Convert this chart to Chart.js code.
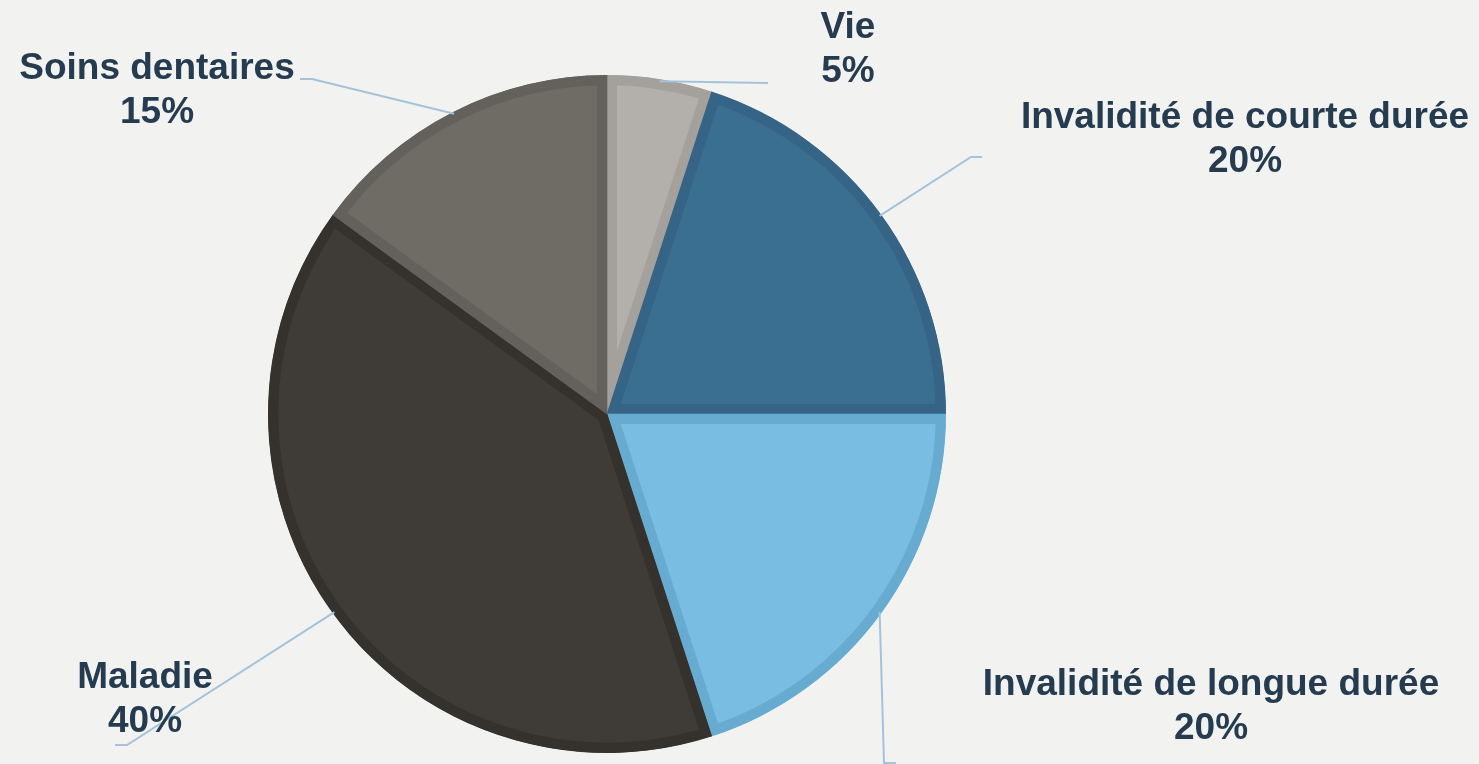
<!DOCTYPE html>
<html>
<head>
<meta charset="utf-8">
<script src="https://cdn.jsdelivr.net/npm/chart.js@4/dist/chart.umd.min.js"></script>
<style>
  html, body { margin: 0; padding: 0; background: #f2f2f1; }
  #wrap { width: 1479px; height: 764px; position: relative; }
</style>
</head>
<body>
<div id="wrap"><canvas id="pie"></canvas></div>
<script>
/* ====== DONNÉES ====== */
const categories = ["Vie", "Invalidité de courte durée", "Invalidité de longue durée", "Maladie", "Soins dentaires"];
const shares = [5, 20, 20, 40, 15];

const fillColors   = ["#b3b0ab", "#3a6f91", "#79bde2", "#3f3c37", "#6f6b65"];
const borderColors = ["#a4a09b", "#356487", "#67abd0", "#35322e", "#64605b"];

/* ====== ÉTIQUETTES (mise en page) ======
   tx/ty = centre du texte / ligne de base 1re ligne
   ex/ey = coude de la ligne de rappel, endX = fin du trait horizontal */
const labelLayout = [
  { tx: 848,  ty: 38,  ex: 768, ey: 83,  endX: 768 },
  { tx: 1245, ty: 128, ex: 971, ey: 157, endX: 982 },
  { tx: 1211, ty: 695, ex: 884, ey: 763, endX: 896 },
  { tx: 145,  ty: 688, ex: 127, ey: 745, endX: 115 },
  { tx: 157,  ty: 79,  ex: 312, ey: 79,  endX: 300 }
];

/* ====== PLUGIN : lignes de rappel + textes ====== */
const calloutPlugin = {
  id: "callouts",
  afterDatasetsDraw(chart) {
    const ctx = chart.ctx;
    const meta = chart.getDatasetMeta(0);
    ctx.save();
    meta.data.forEach((arc, i) => {
      const p = arc.getProps(["x", "y", "startAngle", "endAngle", "outerRadius"], true);
      const mid = (p.startAngle + p.endAngle) / 2;
      const sx = p.x + Math.cos(mid) * (p.outerRadius - 2);
      const sy = p.y + Math.sin(mid) * (p.outerRadius - 2);
      const L = labelLayout[i];

      ctx.strokeStyle = "#a3c3db";
      ctx.lineWidth = 2;
      ctx.beginPath();
      ctx.moveTo(sx, sy);
      ctx.lineTo(L.ex, L.ey);
      ctx.lineTo(L.endX, L.ey);
      ctx.stroke();

      ctx.fillStyle = "#243b50";
      ctx.font = "bold 37px 'Liberation Sans', Arial, sans-serif";
      ctx.textAlign = "center";
      ctx.textBaseline = "alphabetic";
      ctx.fillText(categories[i], L.tx, L.ty);
      ctx.fillText(shares[i] + "%", L.tx, L.ty + 44);
    });
    ctx.restore();
  }
};

/* ====== CHART ====== */
new Chart(document.getElementById("pie").getContext("2d"), {
  type: "pie",
  data: {
    labels: categories,
    datasets: [{
      data: shares,
      backgroundColor: fillColors,
      borderColor: borderColors,
      borderWidth: 10,
      borderAlign: "inner",
      borderJoinStyle: "miter"
    }]
  },
  options: {
    responsive: true,
    maintainAspectRatio: false,
    animation: false,
    layout: { padding: { left: 268, right: 533, top: 75, bottom: 11 } },
    plugins: {
      legend: { display: false },
      tooltip: { enabled: false }
    }
  },
  plugins: [calloutPlugin]
});
</script>
</body>
</html>
